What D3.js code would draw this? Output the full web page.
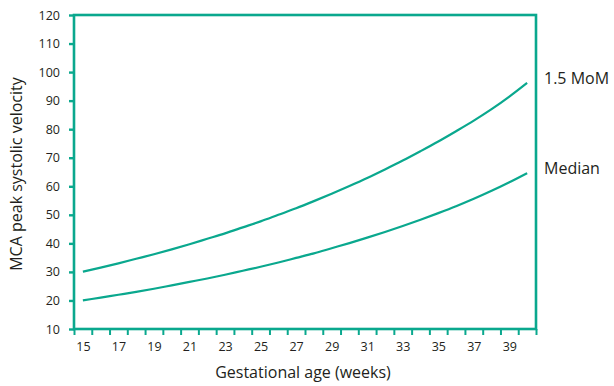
<!DOCTYPE html>
<html><head><meta charset="utf-8">
<script src="https://cdn.jsdelivr.net/npm/d3@7"></script>
<style>
body{margin:0;background:#fff;}
svg{display:block;}
</style></head>
<body><svg id="c" width="614" height="386"></svg>
<script>
const weeks = [15,16,17,18,19,20,21,22,23,24,25,26,27,28,29,30,31,32,33,34,35,36,37,38,39,40];
const median = [20.0,21.0,22.0,23.0,24.1,25.3,26.5,27.7,29.0,30.4,31.8,33.3,34.9,36.5,38.3,40.1,42.0,44.0,46.1,48.3,50.6,53.0,55.6,58.4,61.4,64.6];
const mom15 = [30.1,31.5,33.0,34.6,36.2,37.9,39.7,41.6,43.5,45.6,47.7,50.0,52.3,54.8,57.4,60.1,62.9,65.9,69.0,72.3,75.7,79.3,83.0,87.0,91.4,96.2];
const seriesNames = ["1.5 MoM","Median"];
const xTickLabels = [15,17,19,21,23,25,27,29,31,33,35,37,39];
const yTicks = [10,20,30,40,50,60,70,80,90,100,110,120];
const xTitle = "Gestational age (weeks)";
const yTitle = "MCA peak systolic velocity";

const teal = "#0aa88e";
const ink = "#231f20";
const font = "'Open Sans', 'Noto Sans', sans-serif";
const L=74, R=536, T=15, B=329;
const svg = d3.select("#c");
const x = d3.scaleLinear().domain([14.5,40.5]).range([L,R]);
const y = d3.scaleLinear().domain([10,120]).range([B,T]);

// frame
svg.append("rect").attr("x",L).attr("y",T).attr("width",R-L).attr("height",B-T)
  .attr("fill","none").attr("stroke",teal).attr("stroke-width",2.6);

// x ticks at week boundaries
const bounds = weeks.map(w=>w-0.5).concat([40.5]);
const gxt = svg.append("g").attr("transform",`translate(0,${B})`)
  .call(d3.axisBottom(x).tickValues(bounds).tickFormat("").tickSize(6).tickSizeOuter(0));
gxt.select(".domain").remove();
gxt.selectAll("line").attr("stroke",teal).attr("stroke-width",2);

const gxl = svg.append("g").attr("transform",`translate(0,${B})`)
  .call(d3.axisBottom(x).tickValues(xTickLabels).tickFormat(d3.format("d")).tickSize(0).tickPadding(13));
gxl.select(".domain").remove();
gxl.selectAll("text").attr("fill",ink).style("font-family",font).style("font-size","12.5px");

const gy = svg.append("g").attr("transform",`translate(${L},0)`)
  .call(d3.axisLeft(y).tickValues(yTicks).tickFormat(d3.format("d")).tickSize(5).tickPadding(9).tickSizeOuter(0));
gy.select(".domain").remove();
gy.selectAll("line").attr("stroke",teal).attr("stroke-width",2.4);
gy.selectAll("text").attr("fill",ink).style("font-family",font).style("font-size","12.5px");

// lines
const line = d3.line().x((d,i)=>x(weeks[i])).y(d=>y(d)).curve(d3.curveMonotoneX);
[mom15, median].forEach(s=>{
  svg.append("path").datum(s).attr("d",line).attr("fill","none")
    .attr("stroke",teal).attr("stroke-width",2.2);
});

// series labels
[[mom15,seriesNames[0]],[median,seriesNames[1]]].forEach(([s,n])=>{
  svg.append("text").attr("x",544).attr("y",y(s[s.length-1])-5).attr("dy","0.35em")
    .attr("fill",ink).style("font-family",font).style("font-size","16px").text(n);
});

// titles
svg.append("text").attr("x",(L+R)/2 - 2).attr("y",378).attr("text-anchor","middle")
  .attr("fill",ink).style("font-family",font).style("font-size","16px").text(xTitle);
svg.append("text").attr("transform",`translate(22,${(T+B)/2 + 2}) rotate(-90)`).attr("text-anchor","middle")
  .attr("fill",ink).style("font-family",font).style("font-size","16px").text(yTitle);
</script></body></html>
